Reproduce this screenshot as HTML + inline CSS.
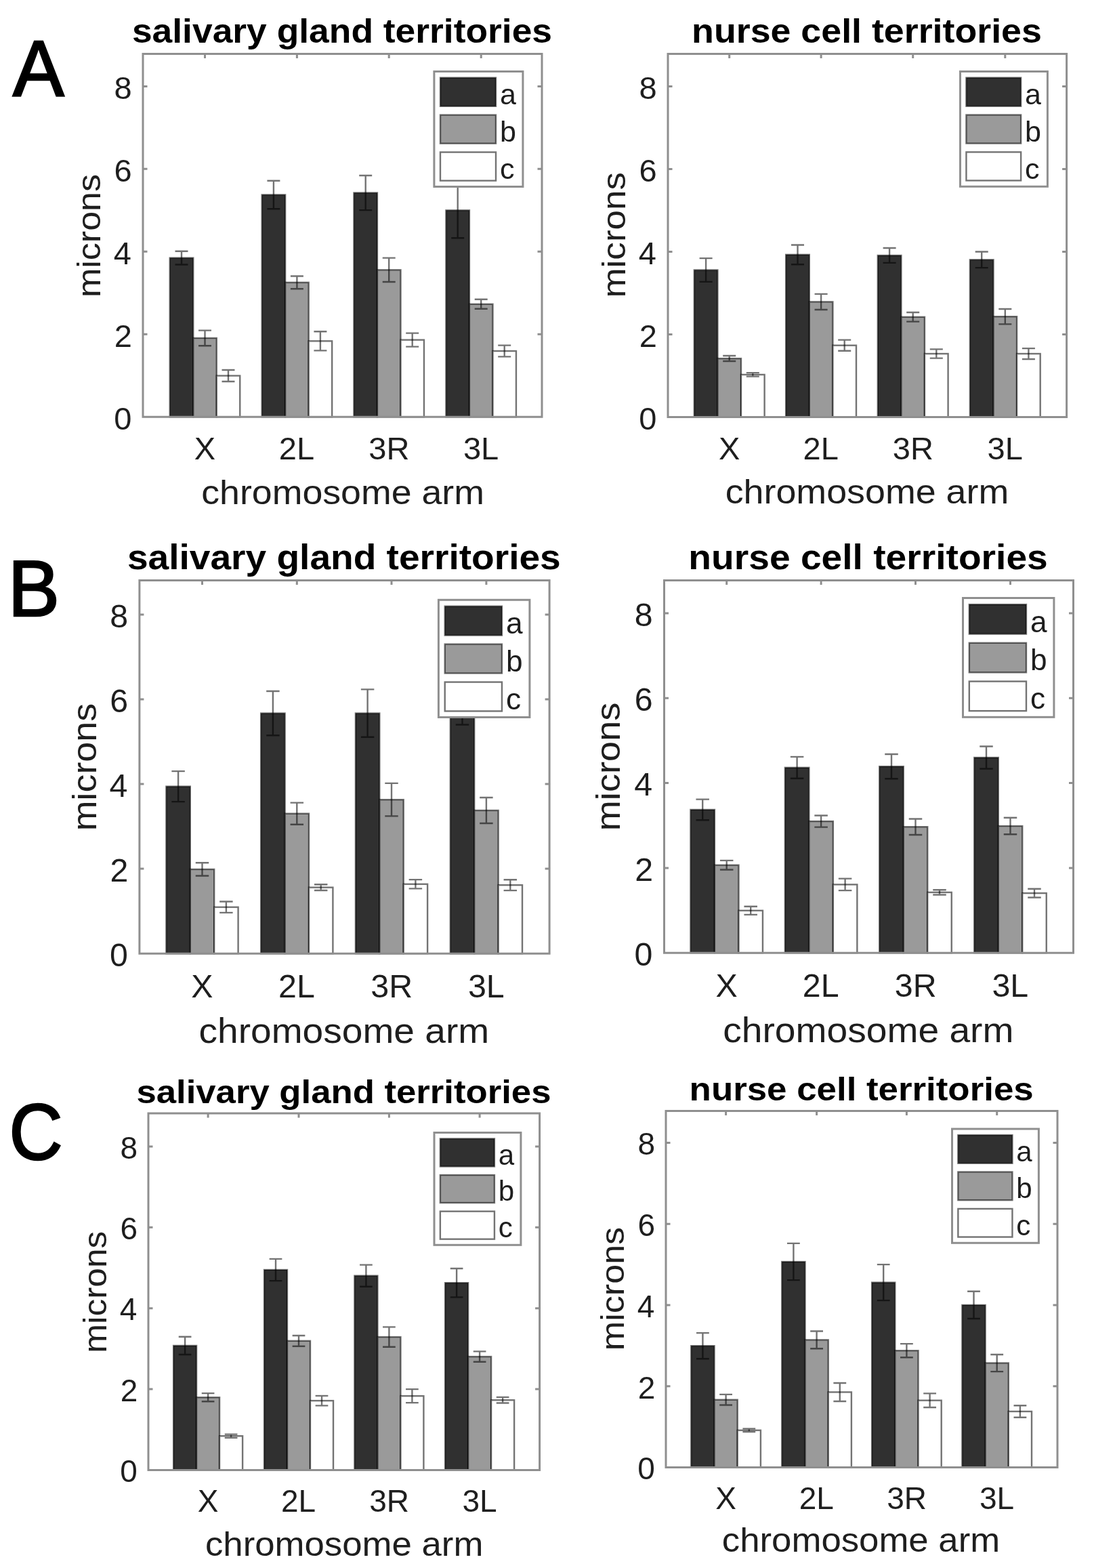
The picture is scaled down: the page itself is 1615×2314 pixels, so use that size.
<!DOCTYPE html>
<html><head><meta charset="utf-8"><title>Chromosome territories</title>
<style>
html,body{margin:0;padding:0;background:#fff;}
body{width:1615px;height:2314px;overflow:hidden;}
svg{display:block;}
text{font-family:"Liberation Sans", Arial, Helvetica, sans-serif;}
</style></head><body>
<svg width="1615" height="2314" viewBox="0 0 1615 2314">
<rect width="1615" height="2314" fill="#fff"/>
<g>
<rect x="250.75" y="380.61" width="34.5" height="234.69" fill="#303030" stroke="#000" stroke-opacity="0.55" stroke-width="2.4"/>
<rect x="285.25" y="498.93" width="34.5" height="116.37" fill="#9a9a9a" stroke="#000" stroke-opacity="0.55" stroke-width="2.4"/>
<rect x="319.75" y="554.49" width="34.5" height="60.81" fill="#ffffff" stroke="#000" stroke-opacity="0.55" stroke-width="2.4"/>
<rect x="386.65" y="287.48" width="34.5" height="327.82" fill="#303030" stroke="#000" stroke-opacity="0.55" stroke-width="2.4"/>
<rect x="421.15" y="416.84" width="34.5" height="198.46" fill="#9a9a9a" stroke="#000" stroke-opacity="0.55" stroke-width="2.4"/>
<rect x="455.65" y="503.32" width="34.5" height="111.98" fill="#ffffff" stroke="#000" stroke-opacity="0.55" stroke-width="2.4"/>
<rect x="522.45" y="284.55" width="34.5" height="330.75" fill="#303030" stroke="#000" stroke-opacity="0.55" stroke-width="2.4"/>
<rect x="556.95" y="398.36" width="34.5" height="216.94" fill="#9a9a9a" stroke="#000" stroke-opacity="0.55" stroke-width="2.4"/>
<rect x="591.45" y="501.61" width="34.5" height="113.69" fill="#ffffff" stroke="#000" stroke-opacity="0.55" stroke-width="2.4"/>
<rect x="658.45" y="310.35" width="34.5" height="304.95" fill="#303030" stroke="#000" stroke-opacity="0.55" stroke-width="2.4"/>
<rect x="692.95" y="448.8" width="34.5" height="166.5" fill="#9a9a9a" stroke="#000" stroke-opacity="0.55" stroke-width="2.4"/>
<rect x="727.45" y="518.02" width="34.5" height="97.28" fill="#ffffff" stroke="#000" stroke-opacity="0.55" stroke-width="2.4"/>
<path d="M268 370.73V390.49M258.51 370.73H277.49M258.51 390.49H277.49" stroke="#000" stroke-opacity="0.55" stroke-width="2.4" fill="none"/>
<path d="M302.5 487.59V510.28M293.01 487.59H311.99M293.01 510.28H311.99" stroke="#000" stroke-opacity="0.55" stroke-width="2.4" fill="none"/>
<path d="M337 545.95V563.03M327.51 545.95H346.49M327.51 563.03H346.49" stroke="#000" stroke-opacity="0.55" stroke-width="2.4" fill="none"/>
<path d="M403.9 266.68V308.28M394.41 266.68H413.39M394.41 308.28H413.39" stroke="#000" stroke-opacity="0.55" stroke-width="2.4" fill="none"/>
<path d="M438.4 407.45V426.23M428.91 407.45H447.89M428.91 426.23H447.89" stroke="#000" stroke-opacity="0.55" stroke-width="2.4" fill="none"/>
<path d="M472.9 489.29V517.35M463.41 489.29H482.39M463.41 517.35H482.39" stroke="#000" stroke-opacity="0.55" stroke-width="2.4" fill="none"/>
<path d="M539.7 258.94V310.17M530.21 258.94H549.19M530.21 310.17H549.19" stroke="#000" stroke-opacity="0.55" stroke-width="2.4" fill="none"/>
<path d="M574.2 380.67V416.05M564.71 380.67H583.69M564.71 416.05H583.69" stroke="#000" stroke-opacity="0.55" stroke-width="2.4" fill="none"/>
<path d="M608.7 491.61V511.62M599.21 491.61H618.19M599.21 511.62H618.19" stroke="#000" stroke-opacity="0.55" stroke-width="2.4" fill="none"/>
<path d="M675.7 269.49V351.21M666.21 269.49H685.19M666.21 351.21H685.19" stroke="#000" stroke-opacity="0.55" stroke-width="2.4" fill="none"/>
<path d="M710.2 441.78V455.81M700.71 441.78H719.69M700.71 455.81H719.69" stroke="#000" stroke-opacity="0.55" stroke-width="2.4" fill="none"/>
<path d="M744.7 509.67V526.38M735.21 509.67H754.19M735.21 526.38H754.19" stroke="#000" stroke-opacity="0.55" stroke-width="2.4" fill="none"/>
<path d="M211 79.5H800V615.3H211ZM211 615.3H217.5M800 615.3H793.5M211 493.32H217.5M800 493.32H793.5M211 371.34H217.5M800 371.34H793.5M211 249.36H217.5M800 249.36H793.5M211 127.38H217.5M800 127.38H793.5M302.5 79.5V86M438.4 79.5V86M574.2 79.5V86M710.2 79.5V86" stroke="#8f8f8f" stroke-width="3.0" fill="none"/>
<text x="168.3" y="633.5" font-size="47" fill="#1e1e1e">0</text>
<text x="168.82" y="511.52" font-size="47" fill="#1e1e1e">2</text>
<text x="167.84" y="389.54" font-size="47" fill="#1e1e1e">4</text>
<text x="168.53" y="267.56" font-size="47" fill="#1e1e1e">6</text>
<text x="168.5" y="145.58" font-size="47" fill="#1e1e1e">8</text>
<text x="286.79" y="678.1" font-size="47" fill="#1e1e1e">X</text>
<text x="411.86" y="678.1" font-size="47" fill="#1e1e1e">2L</text>
<text x="544.35" y="678.1" font-size="47" fill="#1e1e1e">3R</text>
<text x="683.95" y="678.1" font-size="47" fill="#1e1e1e">3L</text>
<text x="297.22" y="743.6" font-size="50.5" textLength="417.72" lengthAdjust="spacingAndGlyphs" fill="#1e1e1e">chromosome arm</text>
<text transform="translate(148.3 439.06) rotate(-90)" font-size="48.5" textLength="182.14" lengthAdjust="spacingAndGlyphs" fill="#1e1e1e">microns</text>
<text x="194.92" y="62.8" font-size="49.5" font-weight="bold" textLength="620.17" lengthAdjust="spacingAndGlyphs" fill="#000">salivary gland territories</text>
<rect x="640.9" y="105.5" width="131" height="170" fill="#fff" stroke="#8f8f8f" stroke-width="3.0"/>
<rect x="649.98" y="114.72" width="82.02" height="42.06" fill="#303030" stroke="#000" stroke-opacity="0.55" stroke-width="2.4"/>
<text x="737.89" y="153.91" font-size="43" fill="#1e1e1e">a</text>
<rect x="649.98" y="169.64" width="82.02" height="42.06" fill="#9a9a9a" stroke="#000" stroke-opacity="0.55" stroke-width="2.4"/>
<text x="737.89" y="208.84" font-size="43" fill="#1e1e1e">b</text>
<rect x="649.98" y="224.57" width="82.02" height="42.06" fill="#ffffff" stroke="#000" stroke-opacity="0.55" stroke-width="2.4"/>
<text x="737.89" y="263.77" font-size="43" fill="#1e1e1e">c</text>
</g>
<g>
<rect x="1024.8" y="398.52" width="34.6" height="216.88" fill="#303030" stroke="#000" stroke-opacity="0.55" stroke-width="2.4"/>
<rect x="1059.4" y="529.04" width="34.6" height="86.36" fill="#9a9a9a" stroke="#000" stroke-opacity="0.55" stroke-width="2.4"/>
<rect x="1094" y="552.89" width="34.6" height="62.51" fill="#ffffff" stroke="#000" stroke-opacity="0.55" stroke-width="2.4"/>
<rect x="1160.2" y="375.83" width="34.6" height="239.57" fill="#303030" stroke="#000" stroke-opacity="0.55" stroke-width="2.4"/>
<rect x="1194.8" y="445.42" width="34.6" height="169.98" fill="#9a9a9a" stroke="#000" stroke-opacity="0.55" stroke-width="2.4"/>
<rect x="1229.4" y="509.7" width="34.6" height="105.7" fill="#ffffff" stroke="#000" stroke-opacity="0.55" stroke-width="2.4"/>
<rect x="1295.8" y="376.93" width="34.6" height="238.47" fill="#303030" stroke="#000" stroke-opacity="0.55" stroke-width="2.4"/>
<rect x="1330.4" y="467.8" width="34.6" height="147.6" fill="#9a9a9a" stroke="#000" stroke-opacity="0.55" stroke-width="2.4"/>
<rect x="1365" y="522.02" width="34.6" height="93.38" fill="#ffffff" stroke="#000" stroke-opacity="0.55" stroke-width="2.4"/>
<rect x="1431.9" y="383.33" width="34.6" height="232.07" fill="#303030" stroke="#000" stroke-opacity="0.55" stroke-width="2.4"/>
<rect x="1466.5" y="467.19" width="34.6" height="148.21" fill="#9a9a9a" stroke="#000" stroke-opacity="0.55" stroke-width="2.4"/>
<rect x="1501.1" y="522.02" width="34.6" height="93.38" fill="#ffffff" stroke="#000" stroke-opacity="0.55" stroke-width="2.4"/>
<path d="M1042.1 381.14V415.9M1032.59 381.14H1051.62M1032.59 415.9H1051.62" stroke="#000" stroke-opacity="0.55" stroke-width="2.4" fill="none"/>
<path d="M1076.7 525.07V533M1067.18 525.07H1086.22M1067.18 533H1086.22" stroke="#000" stroke-opacity="0.55" stroke-width="2.4" fill="none"/>
<path d="M1111.3 550.14V555.63M1101.78 550.14H1120.82M1101.78 555.63H1120.82" stroke="#000" stroke-opacity="0.55" stroke-width="2.4" fill="none"/>
<path d="M1177.5 361.44V390.22M1167.98 361.44H1187.02M1167.98 390.22H1187.02" stroke="#000" stroke-opacity="0.55" stroke-width="2.4" fill="none"/>
<path d="M1212.1 433.83V457.01M1202.58 433.83H1221.62M1202.58 457.01H1221.62" stroke="#000" stroke-opacity="0.55" stroke-width="2.4" fill="none"/>
<path d="M1246.7 501.59V517.82M1237.18 501.59H1256.21M1237.18 517.82H1256.21" stroke="#000" stroke-opacity="0.55" stroke-width="2.4" fill="none"/>
<path d="M1313.1 365.95V387.91M1303.59 365.95H1322.62M1303.59 387.91H1322.62" stroke="#000" stroke-opacity="0.55" stroke-width="2.4" fill="none"/>
<path d="M1347.7 460.97V474.64M1338.18 460.97H1357.22M1338.18 474.64H1357.22" stroke="#000" stroke-opacity="0.55" stroke-width="2.4" fill="none"/>
<path d="M1382.3 515.38V528.67M1372.78 515.38H1391.82M1372.78 528.67H1391.82" stroke="#000" stroke-opacity="0.55" stroke-width="2.4" fill="none"/>
<path d="M1449.2 371.56V395.1M1439.68 371.56H1458.72M1439.68 395.1H1458.72" stroke="#000" stroke-opacity="0.55" stroke-width="2.4" fill="none"/>
<path d="M1483.8 455.97V478.42M1474.28 455.97H1493.32M1474.28 478.42H1493.32" stroke="#000" stroke-opacity="0.55" stroke-width="2.4" fill="none"/>
<path d="M1518.4 514.1V529.95M1508.88 514.1H1527.91M1508.88 529.95H1527.91" stroke="#000" stroke-opacity="0.55" stroke-width="2.4" fill="none"/>
<path d="M986 79.5H1574.6V615.4H986ZM986 615.4H992.5M1574.6 615.4H1568.1M986 493.42H992.5M1574.6 493.42H1568.1M986 371.44H992.5M1574.6 371.44H1568.1M986 249.46H992.5M1574.6 249.46H1568.1M986 127.48H992.5M1574.6 127.48H1568.1M1076.7 79.5V86M1212.1 79.5V86M1347.7 79.5V86M1483.8 79.5V86" stroke="#8f8f8f" stroke-width="3.0" fill="none"/>
<text x="943.3" y="633.6" font-size="47" fill="#1e1e1e">0</text>
<text x="943.82" y="511.62" font-size="47" fill="#1e1e1e">2</text>
<text x="942.84" y="389.64" font-size="47" fill="#1e1e1e">4</text>
<text x="943.53" y="267.66" font-size="47" fill="#1e1e1e">6</text>
<text x="943.5" y="145.68" font-size="47" fill="#1e1e1e">8</text>
<text x="1060.99" y="678.2" font-size="47" fill="#1e1e1e">X</text>
<text x="1185.56" y="678.2" font-size="47" fill="#1e1e1e">2L</text>
<text x="1317.85" y="678.2" font-size="47" fill="#1e1e1e">3R</text>
<text x="1457.55" y="678.2" font-size="47" fill="#1e1e1e">3L</text>
<text x="1070.71" y="743.2" font-size="50.5" textLength="418.53" lengthAdjust="spacingAndGlyphs" fill="#1e1e1e">chromosome arm</text>
<text transform="translate(923.3 439.62) rotate(-90)" font-size="48.5" textLength="185.74" lengthAdjust="spacingAndGlyphs" fill="#1e1e1e">microns</text>
<text x="1021.06" y="62.6" font-size="49.5" font-weight="bold" textLength="516.85" lengthAdjust="spacingAndGlyphs" fill="#000">nurse cell territories</text>
<rect x="1417.5" y="105.5" width="128.9" height="169.8" fill="#fff" stroke="#8f8f8f" stroke-width="3.0"/>
<rect x="1426.43" y="114.7" width="80.7" height="42.01" fill="#303030" stroke="#000" stroke-opacity="0.55" stroke-width="2.4"/>
<text x="1512.95" y="153.85" font-size="43" fill="#1e1e1e">a</text>
<rect x="1426.43" y="169.57" width="80.7" height="42.01" fill="#9a9a9a" stroke="#000" stroke-opacity="0.55" stroke-width="2.4"/>
<text x="1512.95" y="208.72" font-size="43" fill="#1e1e1e">b</text>
<rect x="1426.43" y="224.43" width="80.7" height="42.01" fill="#ffffff" stroke="#000" stroke-opacity="0.55" stroke-width="2.4"/>
<text x="1512.95" y="263.58" font-size="43" fill="#1e1e1e">c</text>
</g>
<g>
<rect x="245.4" y="1160.6" width="35.4" height="246.6" fill="#303030" stroke="#000" stroke-opacity="0.55" stroke-width="2.4"/>
<rect x="280.8" y="1282.87" width="35.4" height="124.33" fill="#9a9a9a" stroke="#000" stroke-opacity="0.55" stroke-width="2.4"/>
<rect x="316.2" y="1338.72" width="35.4" height="68.48" fill="#ffffff" stroke="#000" stroke-opacity="0.55" stroke-width="2.4"/>
<rect x="385.2" y="1052.6" width="35.4" height="354.6" fill="#303030" stroke="#000" stroke-opacity="0.55" stroke-width="2.4"/>
<rect x="420.6" y="1200.69" width="35.4" height="206.51" fill="#9a9a9a" stroke="#000" stroke-opacity="0.55" stroke-width="2.4"/>
<rect x="456" y="1309.64" width="35.4" height="97.56" fill="#ffffff" stroke="#000" stroke-opacity="0.55" stroke-width="2.4"/>
<rect x="524.9" y="1052.6" width="35.4" height="354.6" fill="#303030" stroke="#000" stroke-opacity="0.55" stroke-width="2.4"/>
<rect x="560.3" y="1180.12" width="35.4" height="227.08" fill="#9a9a9a" stroke="#000" stroke-opacity="0.55" stroke-width="2.4"/>
<rect x="595.7" y="1304.76" width="35.4" height="102.44" fill="#ffffff" stroke="#000" stroke-opacity="0.55" stroke-width="2.4"/>
<rect x="664.8" y="1038.21" width="35.4" height="368.99" fill="#303030" stroke="#000" stroke-opacity="0.55" stroke-width="2.4"/>
<rect x="700.2" y="1195.94" width="35.4" height="211.26" fill="#9a9a9a" stroke="#000" stroke-opacity="0.55" stroke-width="2.4"/>
<rect x="735.6" y="1306.14" width="35.4" height="101.06" fill="#ffffff" stroke="#000" stroke-opacity="0.55" stroke-width="2.4"/>
<path d="M263.1 1138.09V1183.12M253.37 1138.09H272.84M253.37 1183.12H272.84" stroke="#000" stroke-opacity="0.55" stroke-width="2.4" fill="none"/>
<path d="M298.5 1273.18V1292.56M288.76 1273.18H308.24M288.76 1292.56H308.24" stroke="#000" stroke-opacity="0.55" stroke-width="2.4" fill="none"/>
<path d="M333.9 1330.53V1346.91M324.16 1330.53H343.63M324.16 1346.91H343.63" stroke="#000" stroke-opacity="0.55" stroke-width="2.4" fill="none"/>
<path d="M402.9 1019.95V1085.24M393.17 1019.95H412.64M393.17 1085.24H412.64" stroke="#000" stroke-opacity="0.55" stroke-width="2.4" fill="none"/>
<path d="M438.3 1184.62V1216.77M428.56 1184.62H448.04M428.56 1216.77H448.04" stroke="#000" stroke-opacity="0.55" stroke-width="2.4" fill="none"/>
<path d="M473.7 1305.26V1314.02M463.96 1305.26H483.44M463.96 1314.02H483.44" stroke="#000" stroke-opacity="0.55" stroke-width="2.4" fill="none"/>
<path d="M542.6 1017.39V1087.81M532.87 1017.39H552.34M532.87 1087.81H552.34" stroke="#000" stroke-opacity="0.55" stroke-width="2.4" fill="none"/>
<path d="M578 1155.85V1204.38M568.26 1155.85H587.74M568.26 1204.38H587.74" stroke="#000" stroke-opacity="0.55" stroke-width="2.4" fill="none"/>
<path d="M613.4 1298.13V1311.39M603.66 1298.13H623.13M603.66 1311.39H623.13" stroke="#000" stroke-opacity="0.55" stroke-width="2.4" fill="none"/>
<path d="M682.5 1006.94V1069.48M672.76 1006.94H692.24M672.76 1069.48H692.24" stroke="#000" stroke-opacity="0.55" stroke-width="2.4" fill="none"/>
<path d="M717.9 1176.93V1214.95M708.16 1176.93H727.63M708.16 1214.95H727.63" stroke="#000" stroke-opacity="0.55" stroke-width="2.4" fill="none"/>
<path d="M753.3 1298.19V1314.08M743.56 1298.19H763.03M743.56 1314.08H763.03" stroke="#000" stroke-opacity="0.55" stroke-width="2.4" fill="none"/>
<path d="M205.9 856.5H811.1V1407.2H205.9ZM205.9 1407.2H212.4M811.1 1407.2H804.6M205.9 1282.12H212.4M811.1 1282.12H804.6M205.9 1157.04H212.4M811.1 1157.04H804.6M205.9 1031.96H212.4M811.1 1031.96H804.6M205.9 906.88H212.4M811.1 906.88H804.6M298.5 856.5V863M438.3 856.5V863M578 856.5V863M717.9 856.5V863" stroke="#8f8f8f" stroke-width="3.0" fill="none"/>
<text x="162" y="1425.91" font-size="48.32" fill="#1e1e1e">0</text>
<text x="162.54" y="1300.83" font-size="48.32" fill="#1e1e1e">2</text>
<text x="161.53" y="1175.75" font-size="48.32" fill="#1e1e1e">4</text>
<text x="162.24" y="1050.67" font-size="48.32" fill="#1e1e1e">6</text>
<text x="162.21" y="925.59" font-size="48.32" fill="#1e1e1e">8</text>
<text x="282.35" y="1471.76" font-size="48.32" fill="#1e1e1e">X</text>
<text x="411.02" y="1471.76" font-size="48.32" fill="#1e1e1e">2L</text>
<text x="547.32" y="1471.76" font-size="48.32" fill="#1e1e1e">3R</text>
<text x="690.91" y="1471.76" font-size="48.32" fill="#1e1e1e">3L</text>
<text x="293.46" y="1539.1" font-size="51.91" textLength="428.77" lengthAdjust="spacingAndGlyphs" fill="#1e1e1e">chromosome arm</text>
<text transform="translate(141.5 1226.27) rotate(-90)" font-size="49.86" textLength="188.42" lengthAdjust="spacingAndGlyphs" fill="#1e1e1e">microns</text>
<text x="187.96" y="840" font-size="50.89" font-weight="bold" textLength="639.8" lengthAdjust="spacingAndGlyphs" fill="#000">salivary gland territories</text>
<rect x="647.4" y="885.3" width="134.5" height="173.2" fill="#fff" stroke="#8f8f8f" stroke-width="3.0"/>
<rect x="656.73" y="894.69" width="84.22" height="42.88" fill="#303030" stroke="#000" stroke-opacity="0.55" stroke-width="2.4"/>
<text x="746.96" y="934.63" font-size="44.2" fill="#1e1e1e">a</text>
<rect x="656.73" y="950.63" width="84.22" height="42.88" fill="#9a9a9a" stroke="#000" stroke-opacity="0.55" stroke-width="2.4"/>
<text x="746.96" y="990.58" font-size="44.2" fill="#1e1e1e">b</text>
<rect x="656.73" y="1006.58" width="84.22" height="42.88" fill="#ffffff" stroke="#000" stroke-opacity="0.55" stroke-width="2.4"/>
<text x="746.96" y="1046.52" font-size="44.2" fill="#1e1e1e">c</text>
</g>
<g>
<rect x="1019.45" y="1194.91" width="35.5" height="211.29" fill="#303030" stroke="#000" stroke-opacity="0.55" stroke-width="2.4"/>
<rect x="1054.95" y="1276.68" width="35.5" height="129.52" fill="#9a9a9a" stroke="#000" stroke-opacity="0.55" stroke-width="2.4"/>
<rect x="1090.45" y="1343.79" width="35.5" height="62.41" fill="#ffffff" stroke="#000" stroke-opacity="0.55" stroke-width="2.4"/>
<rect x="1158.85" y="1132.81" width="35.5" height="273.39" fill="#303030" stroke="#000" stroke-opacity="0.55" stroke-width="2.4"/>
<rect x="1194.35" y="1212.02" width="35.5" height="194.18" fill="#9a9a9a" stroke="#000" stroke-opacity="0.55" stroke-width="2.4"/>
<rect x="1229.85" y="1305.38" width="35.5" height="100.82" fill="#ffffff" stroke="#000" stroke-opacity="0.55" stroke-width="2.4"/>
<rect x="1298.25" y="1131.12" width="35.5" height="275.08" fill="#303030" stroke="#000" stroke-opacity="0.55" stroke-width="2.4"/>
<rect x="1333.75" y="1220.23" width="35.5" height="185.97" fill="#9a9a9a" stroke="#000" stroke-opacity="0.55" stroke-width="2.4"/>
<rect x="1369.25" y="1316.91" width="35.5" height="89.29" fill="#ffffff" stroke="#000" stroke-opacity="0.55" stroke-width="2.4"/>
<rect x="1438.25" y="1117.96" width="35.5" height="288.24" fill="#303030" stroke="#000" stroke-opacity="0.55" stroke-width="2.4"/>
<rect x="1473.75" y="1219.03" width="35.5" height="187.17" fill="#9a9a9a" stroke="#000" stroke-opacity="0.55" stroke-width="2.4"/>
<rect x="1509.25" y="1318.1" width="35.5" height="88.1" fill="#ffffff" stroke="#000" stroke-opacity="0.55" stroke-width="2.4"/>
<path d="M1037.2 1179.62V1210.2M1027.44 1179.62H1046.96M1027.44 1210.2H1046.96" stroke="#000" stroke-opacity="0.55" stroke-width="2.4" fill="none"/>
<path d="M1072.7 1269.85V1283.51M1062.94 1269.85H1082.46M1062.94 1283.51H1082.46" stroke="#000" stroke-opacity="0.55" stroke-width="2.4" fill="none"/>
<path d="M1108.2 1337.71V1349.87M1098.44 1337.71H1117.96M1098.44 1349.87H1117.96" stroke="#000" stroke-opacity="0.55" stroke-width="2.4" fill="none"/>
<path d="M1176.6 1116.9V1148.73M1166.84 1116.9H1186.36M1166.84 1148.73H1186.36" stroke="#000" stroke-opacity="0.55" stroke-width="2.4" fill="none"/>
<path d="M1212.1 1203.43V1220.6M1202.34 1203.43H1221.86M1202.34 1220.6H1221.86" stroke="#000" stroke-opacity="0.55" stroke-width="2.4" fill="none"/>
<path d="M1247.6 1296.61V1314.15M1237.84 1296.61H1257.36M1237.84 1314.15H1257.36" stroke="#000" stroke-opacity="0.55" stroke-width="2.4" fill="none"/>
<path d="M1316 1112.95V1149.29M1306.24 1112.95H1325.76M1306.24 1149.29H1325.76" stroke="#000" stroke-opacity="0.55" stroke-width="2.4" fill="none"/>
<path d="M1351.5 1208.45V1232.01M1341.74 1208.45H1361.26M1341.74 1232.01H1361.26" stroke="#000" stroke-opacity="0.55" stroke-width="2.4" fill="none"/>
<path d="M1387 1313.28V1320.54M1377.24 1313.28H1396.76M1377.24 1320.54H1396.76" stroke="#000" stroke-opacity="0.55" stroke-width="2.4" fill="none"/>
<path d="M1456 1101.48V1134.44M1446.24 1101.48H1465.76M1446.24 1134.44H1465.76" stroke="#000" stroke-opacity="0.55" stroke-width="2.4" fill="none"/>
<path d="M1491.5 1206.82V1231.25M1481.74 1206.82H1501.26M1481.74 1231.25H1501.26" stroke="#000" stroke-opacity="0.55" stroke-width="2.4" fill="none"/>
<path d="M1527 1311.77V1324.43M1517.24 1311.77H1536.76M1517.24 1324.43H1536.76" stroke="#000" stroke-opacity="0.55" stroke-width="2.4" fill="none"/>
<path d="M980.5 856.5H1584.5V1406.2H980.5ZM980.5 1406.2H987M1584.5 1406.2H1578M980.5 1280.88H987M1584.5 1280.88H1578M980.5 1155.56H987M1584.5 1155.56H1578M980.5 1030.24H987M1584.5 1030.24H1578M980.5 904.92H987M1584.5 904.92H1578M1072.7 856.5V863M1212.1 856.5V863M1351.5 856.5V863M1491.5 856.5V863" stroke="#8f8f8f" stroke-width="3.0" fill="none"/>
<text x="936.6" y="1424.91" font-size="48.32" fill="#1e1e1e">0</text>
<text x="937.14" y="1299.59" font-size="48.32" fill="#1e1e1e">2</text>
<text x="936.13" y="1174.27" font-size="48.32" fill="#1e1e1e">4</text>
<text x="936.84" y="1048.95" font-size="48.32" fill="#1e1e1e">6</text>
<text x="936.81" y="923.63" font-size="48.32" fill="#1e1e1e">8</text>
<text x="1056.55" y="1470.76" font-size="48.32" fill="#1e1e1e">X</text>
<text x="1184.82" y="1470.76" font-size="48.32" fill="#1e1e1e">2L</text>
<text x="1320.82" y="1470.76" font-size="48.32" fill="#1e1e1e">3R</text>
<text x="1464.51" y="1470.76" font-size="48.32" fill="#1e1e1e">3L</text>
<text x="1067.16" y="1538.4" font-size="51.91" textLength="429.28" lengthAdjust="spacingAndGlyphs" fill="#1e1e1e">chromosome arm</text>
<text transform="translate(914.5 1226.3) rotate(-90)" font-size="49.86" textLength="189.76" lengthAdjust="spacingAndGlyphs" fill="#1e1e1e">microns</text>
<text x="1016.36" y="839.6" font-size="50.89" font-weight="bold" textLength="530.4" lengthAdjust="spacingAndGlyphs" fill="#000">nurse cell territories</text>
<rect x="1421.5" y="882.5" width="134.4" height="175.8" fill="#fff" stroke="#8f8f8f" stroke-width="3.0"/>
<rect x="1430.82" y="892.03" width="84.16" height="43.55" fill="#303030" stroke="#000" stroke-opacity="0.55" stroke-width="2.4"/>
<text x="1520.99" y="932.58" font-size="44.2" fill="#1e1e1e">a</text>
<rect x="1430.82" y="948.8" width="84.16" height="43.55" fill="#9a9a9a" stroke="#000" stroke-opacity="0.55" stroke-width="2.4"/>
<text x="1520.99" y="989.35" font-size="44.2" fill="#1e1e1e">b</text>
<rect x="1430.82" y="1005.57" width="84.16" height="43.55" fill="#ffffff" stroke="#000" stroke-opacity="0.55" stroke-width="2.4"/>
<text x="1520.99" y="1046.12" font-size="44.2" fill="#1e1e1e">c</text>
</g>
<g>
<rect x="256.1" y="1985.88" width="34" height="183.52" fill="#303030" stroke="#000" stroke-opacity="0.55" stroke-width="2.4"/>
<rect x="290.1" y="2062.21" width="34" height="107.19" fill="#9a9a9a" stroke="#000" stroke-opacity="0.55" stroke-width="2.4"/>
<rect x="324.1" y="2119.21" width="34" height="50.19" fill="#ffffff" stroke="#000" stroke-opacity="0.55" stroke-width="2.4"/>
<rect x="390" y="1873.98" width="34" height="295.42" fill="#303030" stroke="#000" stroke-opacity="0.55" stroke-width="2.4"/>
<rect x="424" y="1978.84" width="34" height="190.56" fill="#9a9a9a" stroke="#000" stroke-opacity="0.55" stroke-width="2.4"/>
<rect x="458" y="2067.11" width="34" height="102.29" fill="#ffffff" stroke="#000" stroke-opacity="0.55" stroke-width="2.4"/>
<rect x="523.4" y="1882.7" width="34" height="286.7" fill="#303030" stroke="#000" stroke-opacity="0.55" stroke-width="2.4"/>
<rect x="557.4" y="1973.05" width="34" height="196.35" fill="#9a9a9a" stroke="#000" stroke-opacity="0.55" stroke-width="2.4"/>
<rect x="591.4" y="2060.13" width="34" height="109.27" fill="#ffffff" stroke="#000" stroke-opacity="0.55" stroke-width="2.4"/>
<rect x="657.1" y="1893.2" width="34" height="276.2" fill="#303030" stroke="#000" stroke-opacity="0.55" stroke-width="2.4"/>
<rect x="691.1" y="2002.06" width="34" height="167.34" fill="#9a9a9a" stroke="#000" stroke-opacity="0.55" stroke-width="2.4"/>
<rect x="725.1" y="2066.21" width="34" height="103.19" fill="#ffffff" stroke="#000" stroke-opacity="0.55" stroke-width="2.4"/>
<path d="M273.1 1972.81V1998.95M263.75 1972.81H282.45M263.75 1998.95H282.45" stroke="#000" stroke-opacity="0.55" stroke-width="2.4" fill="none"/>
<path d="M307.1 2056.13V2068.3M297.75 2056.13H316.45M297.75 2068.3H316.45" stroke="#000" stroke-opacity="0.55" stroke-width="2.4" fill="none"/>
<path d="M341.1 2116.58V2121.84M331.75 2116.58H350.45M331.75 2121.84H350.45" stroke="#000" stroke-opacity="0.55" stroke-width="2.4" fill="none"/>
<path d="M407 1857.87V1890.1M397.65 1857.87H416.35M397.65 1890.1H416.35" stroke="#000" stroke-opacity="0.55" stroke-width="2.4" fill="none"/>
<path d="M441 1970.96V1986.72M431.65 1970.96H450.35M431.65 1986.72H450.35" stroke="#000" stroke-opacity="0.55" stroke-width="2.4" fill="none"/>
<path d="M475 2059.89V2074.33M465.65 2059.89H484.35M465.65 2074.33H484.35" stroke="#000" stroke-opacity="0.55" stroke-width="2.4" fill="none"/>
<path d="M540.4 1866.58V1898.81M531.05 1866.58H549.75M531.05 1898.81H549.75" stroke="#000" stroke-opacity="0.55" stroke-width="2.4" fill="none"/>
<path d="M574.4 1958.37V1987.73M565.05 1958.37H583.75M565.05 1987.73H583.75" stroke="#000" stroke-opacity="0.55" stroke-width="2.4" fill="none"/>
<path d="M608.4 2050.1V2070.15M599.05 2050.1H617.75M599.05 2070.15H617.75" stroke="#000" stroke-opacity="0.55" stroke-width="2.4" fill="none"/>
<path d="M674.1 1872.07V1914.33M664.75 1872.07H683.45M664.75 1914.33H683.45" stroke="#000" stroke-opacity="0.55" stroke-width="2.4" fill="none"/>
<path d="M708.1 1994.36V2009.76M698.75 1994.36H717.45M698.75 2009.76H717.45" stroke="#000" stroke-opacity="0.55" stroke-width="2.4" fill="none"/>
<path d="M742.1 2061.86V2070.57M732.75 2061.86H751.45M732.75 2070.57H751.45" stroke="#000" stroke-opacity="0.55" stroke-width="2.4" fill="none"/>
<path d="M219 1643H796.6V2169.4H219ZM219 2169.4H225.5M796.6 2169.4H790.1M219 2050.04H225.5M796.6 2050.04H790.1M219 1930.68H225.5M796.6 1930.68H790.1M219 1811.32H225.5M796.6 1811.32H790.1M219 1691.96H225.5M796.6 1691.96H790.1M307.1 1643V1649.5M441 1643V1649.5M574.4 1643V1649.5M708.1 1643V1649.5" stroke="#8f8f8f" stroke-width="3.0" fill="none"/>
<text x="177.24" y="2187.2" font-size="45.97" fill="#1e1e1e">0</text>
<text x="177.75" y="2067.84" font-size="45.97" fill="#1e1e1e">2</text>
<text x="176.79" y="1948.48" font-size="45.97" fill="#1e1e1e">4</text>
<text x="177.46" y="1829.12" font-size="45.97" fill="#1e1e1e">6</text>
<text x="177.44" y="1709.76" font-size="45.97" fill="#1e1e1e">8</text>
<text x="291.74" y="2230.82" font-size="45.97" fill="#1e1e1e">X</text>
<text x="415.04" y="2230.82" font-size="45.97" fill="#1e1e1e">2L</text>
<text x="545.21" y="2230.82" font-size="45.97" fill="#1e1e1e">3R</text>
<text x="682.42" y="2230.82" font-size="45.97" fill="#1e1e1e">3L</text>
<text x="302.96" y="2295.8" font-size="49.39" textLength="410.42" lengthAdjust="spacingAndGlyphs" fill="#1e1e1e">chromosome arm</text>
<text transform="translate(157.2 1996.82) rotate(-90)" font-size="47.43" textLength="180.07" lengthAdjust="spacingAndGlyphs" fill="#1e1e1e">microns</text>
<text x="201.45" y="1628.3" font-size="48.41" font-weight="bold" textLength="612.01" lengthAdjust="spacingAndGlyphs" fill="#000">salivary gland territories</text>
<rect x="641" y="1671.5" width="127.9" height="165.8" fill="#fff" stroke="#8f8f8f" stroke-width="3.0"/>
<rect x="649.86" y="1680.48" width="80.07" height="40.98" fill="#303030" stroke="#000" stroke-opacity="0.55" stroke-width="2.4"/>
<text x="735.71" y="1718.7" font-size="42.05" fill="#1e1e1e">a</text>
<rect x="649.86" y="1734.08" width="80.07" height="40.98" fill="#9a9a9a" stroke="#000" stroke-opacity="0.55" stroke-width="2.4"/>
<text x="735.71" y="1772.29" font-size="42.05" fill="#1e1e1e">b</text>
<rect x="649.86" y="1787.67" width="80.07" height="40.98" fill="#ffffff" stroke="#000" stroke-opacity="0.55" stroke-width="2.4"/>
<text x="735.71" y="1825.89" font-size="42.05" fill="#1e1e1e">c</text>
</g>
<g>
<rect x="1020.3" y="1986.19" width="34.2" height="179.31" fill="#303030" stroke="#000" stroke-opacity="0.55" stroke-width="2.4"/>
<rect x="1054.5" y="2065.72" width="34.2" height="99.78" fill="#9a9a9a" stroke="#000" stroke-opacity="0.55" stroke-width="2.4"/>
<rect x="1088.7" y="2110.76" width="34.2" height="54.74" fill="#ffffff" stroke="#000" stroke-opacity="0.55" stroke-width="2.4"/>
<rect x="1154.3" y="1862.04" width="34.2" height="303.46" fill="#303030" stroke="#000" stroke-opacity="0.55" stroke-width="2.4"/>
<rect x="1188.5" y="1977.39" width="34.2" height="188.11" fill="#9a9a9a" stroke="#000" stroke-opacity="0.55" stroke-width="2.4"/>
<rect x="1222.7" y="2054.46" width="34.2" height="111.04" fill="#ffffff" stroke="#000" stroke-opacity="0.55" stroke-width="2.4"/>
<rect x="1287.1" y="1892.64" width="34.2" height="272.86" fill="#303030" stroke="#000" stroke-opacity="0.55" stroke-width="2.4"/>
<rect x="1321.3" y="1993.2" width="34.2" height="172.3" fill="#9a9a9a" stroke="#000" stroke-opacity="0.55" stroke-width="2.4"/>
<rect x="1355.5" y="2066.68" width="34.2" height="98.82" fill="#ffffff" stroke="#000" stroke-opacity="0.55" stroke-width="2.4"/>
<rect x="1420.4" y="1925.94" width="34.2" height="239.56" fill="#303030" stroke="#000" stroke-opacity="0.55" stroke-width="2.4"/>
<rect x="1454.6" y="2011.52" width="34.2" height="153.98" fill="#9a9a9a" stroke="#000" stroke-opacity="0.55" stroke-width="2.4"/>
<rect x="1488.8" y="2082.97" width="34.2" height="82.53" fill="#ffffff" stroke="#000" stroke-opacity="0.55" stroke-width="2.4"/>
<path d="M1037.4 1967.14V2005.23M1027.99 1967.14H1046.8M1027.99 2005.23H1046.8" stroke="#000" stroke-opacity="0.55" stroke-width="2.4" fill="none"/>
<path d="M1071.6 2057.88V2073.57M1062.19 2057.88H1081M1062.19 2073.57H1081" stroke="#000" stroke-opacity="0.55" stroke-width="2.4" fill="none"/>
<path d="M1105.8 2108.42V2113.1M1096.39 2108.42H1115.2M1096.39 2113.1H1115.2" stroke="#000" stroke-opacity="0.55" stroke-width="2.4" fill="none"/>
<path d="M1171.4 1834.91V1889.17M1161.99 1834.91H1180.8M1161.99 1889.17H1180.8" stroke="#000" stroke-opacity="0.55" stroke-width="2.4" fill="none"/>
<path d="M1205.6 1964.45V1990.32M1196.19 1964.45H1215M1196.19 1990.32H1215" stroke="#000" stroke-opacity="0.55" stroke-width="2.4" fill="none"/>
<path d="M1239.8 2040.93V2068M1230.39 2040.93H1249.2M1230.39 2068H1249.2" stroke="#000" stroke-opacity="0.55" stroke-width="2.4" fill="none"/>
<path d="M1304.2 1866.11V1919.17M1294.8 1866.11H1313.61M1294.8 1919.17H1313.61" stroke="#000" stroke-opacity="0.55" stroke-width="2.4" fill="none"/>
<path d="M1338.4 1983.13V2003.26M1329 1983.13H1347.81M1329 2003.26H1347.81" stroke="#000" stroke-opacity="0.55" stroke-width="2.4" fill="none"/>
<path d="M1372.6 2056.38V2076.98M1363.2 2056.38H1382.01M1363.2 2076.98H1382.01" stroke="#000" stroke-opacity="0.55" stroke-width="2.4" fill="none"/>
<path d="M1437.5 1905.82V1946.06M1428.1 1905.82H1446.9M1428.1 1946.06H1446.9" stroke="#000" stroke-opacity="0.55" stroke-width="2.4" fill="none"/>
<path d="M1471.7 1998.95V2024.1M1462.3 1998.95H1481.11M1462.3 2024.1H1481.11" stroke="#000" stroke-opacity="0.55" stroke-width="2.4" fill="none"/>
<path d="M1505.9 2074.23V2091.72M1496.5 2074.23H1515.31M1496.5 2091.72H1515.31" stroke="#000" stroke-opacity="0.55" stroke-width="2.4" fill="none"/>
<path d="M983 1639.6H1561V2165.5H983ZM983 2165.5H989.5M1561 2165.5H1554.5M983 2045.72H989.5M1561 2045.72H1554.5M983 1925.94H989.5M1561 1925.94H1554.5M983 1806.16H989.5M1561 1806.16H1554.5M983 1686.38H989.5M1561 1686.38H1554.5M1071.6 1639.6V1646.1M1205.6 1639.6V1646.1M1338.4 1639.6V1646.1M1471.7 1639.6V1646.1" stroke="#8f8f8f" stroke-width="3.0" fill="none"/>
<text x="941.24" y="2183.3" font-size="45.97" fill="#1e1e1e">0</text>
<text x="941.75" y="2063.52" font-size="45.97" fill="#1e1e1e">2</text>
<text x="940.79" y="1943.74" font-size="45.97" fill="#1e1e1e">4</text>
<text x="941.46" y="1823.96" font-size="45.97" fill="#1e1e1e">6</text>
<text x="941.44" y="1704.18" font-size="45.97" fill="#1e1e1e">8</text>
<text x="1056.24" y="2226.92" font-size="45.97" fill="#1e1e1e">X</text>
<text x="1179.64" y="2226.92" font-size="45.97" fill="#1e1e1e">2L</text>
<text x="1309.21" y="2226.92" font-size="45.97" fill="#1e1e1e">3R</text>
<text x="1446.02" y="2226.92" font-size="45.97" fill="#1e1e1e">3L</text>
<text x="1065.86" y="2290.1" font-size="49.39" textLength="410.32" lengthAdjust="spacingAndGlyphs" fill="#1e1e1e">chromosome arm</text>
<text transform="translate(921.2 1993.26) rotate(-90)" font-size="47.43" textLength="182.44" lengthAdjust="spacingAndGlyphs" fill="#1e1e1e">microns</text>
<text x="1017.62" y="1623.7" font-size="48.41" font-weight="bold" textLength="508.05" lengthAdjust="spacingAndGlyphs" fill="#000">nurse cell territories</text>
<rect x="1405.5" y="1666" width="127.9" height="168.3" fill="#fff" stroke="#8f8f8f" stroke-width="3.0"/>
<rect x="1414.36" y="1675.12" width="80.07" height="41.62" fill="#303030" stroke="#000" stroke-opacity="0.55" stroke-width="2.4"/>
<text x="1500.21" y="1713.92" font-size="42.05" fill="#1e1e1e">a</text>
<rect x="1414.36" y="1729.51" width="80.07" height="41.62" fill="#9a9a9a" stroke="#000" stroke-opacity="0.55" stroke-width="2.4"/>
<text x="1500.21" y="1768.31" font-size="42.05" fill="#1e1e1e">b</text>
<rect x="1414.36" y="1783.9" width="80.07" height="41.62" fill="#ffffff" stroke="#000" stroke-opacity="0.55" stroke-width="2.4"/>
<text x="1500.21" y="1822.7" font-size="42.05" fill="#1e1e1e">c</text>
</g>
<text stroke="#000" stroke-width="2.6" x="19.08" y="142.2" font-size="117" textLength="75.54" lengthAdjust="spacingAndGlyphs" fill="#000">A</text>
<text stroke="#000" stroke-width="2.6" x="11.63" y="909" font-size="117" textLength="76.2" lengthAdjust="spacingAndGlyphs" fill="#000">B</text>
<text stroke="#000" stroke-width="2.6" x="13.54" y="1710.9" font-size="117" textLength="79.02" lengthAdjust="spacingAndGlyphs" fill="#000">C</text>
</svg>
</body></html>
